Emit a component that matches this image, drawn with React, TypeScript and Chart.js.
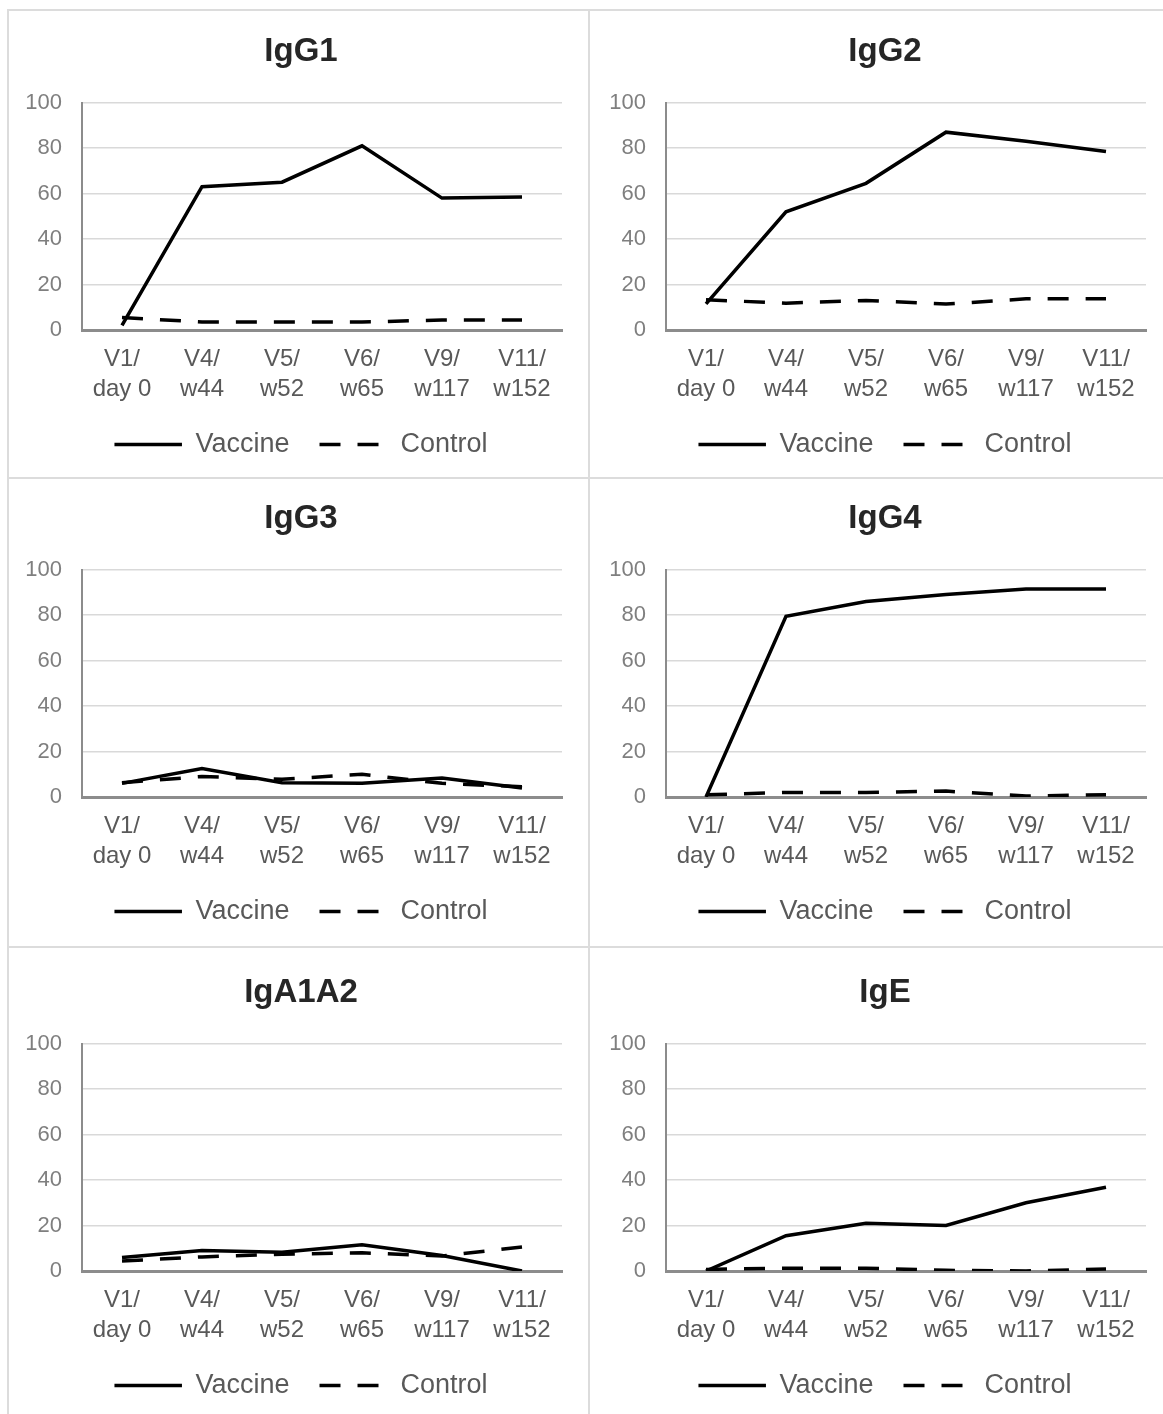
import React, { useEffect, useRef } from "react";
import { Chart, registerables } from "chart.js";

Chart.register(...registerables);

const timepoints: string[][] = [
  ["V1/", "day 0"],
  ["V4/", "w44"],
  ["V5/", "w52"],
  ["V6/", "w65"],
  ["V9/", "w117"],
  ["V11/", "w152"],
];
const yTicks = [0, 20, 40, 60, 80, 100];
const seriesNames = ["Vaccine", "Control"];

const igg1Vaccine = [2, 63, 65, 81, 58, 58.5];
const igg1Control = [5.5, 3.5, 3.5, 3.5, 4.4, 4.4];
const igg2Vaccine = [11.5, 52, 64.5, 87, 83, 78.5];
const igg2Control = [13.3, 11.8, 13, 11.4, 13.7, 13.7];
const igg3Vaccine = [6, 12.5, 6.3, 6, 8.3, 4];
const igg3Control = [6.3, 9, 7.8, 10, 6, 4.5];
const igg4Vaccine = [0, 79.5, 86, 89, 91.5, 91.5];
const igg4Control = [1, 2, 2, 2.6, 0.4, 1];
const igaVaccine = [5.9, 9, 8.2, 11.5, 6.8, 0];
const igaControl = [4.4, 6.2, 7.4, 8, 6.6, 10.6];
const igeVaccine = [0, 15.5, 21, 20, 30, 36.8];
const igeControl = [0.7, 1.2, 1.2, 0.3, 0, 0.9];

const panelTitles = ["IgG1", "IgG2", "IgG3", "IgG4", "IgA1A2", "IgE"];
const panelVaccine = [igg1Vaccine, igg2Vaccine, igg3Vaccine, igg4Vaccine, igaVaccine, igeVaccine];
const panelControl = [igg1Control, igg2Control, igg3Control, igg4Control, igaControl, igeControl];

const FONT = "'Liberation Sans', Arial, sans-serif";
const CW = 580;
const CH = 460;
const colLefts = [6, 590];
const rowTops = [10, 477, 951];
const PAD_LEFT = 34;
const DASH = [21, 17];
const LINE_W = 3.5;

const noLabelClip = (s: any) => {
  s._computeLabelArea = () => undefined;
};

function Panel({ idx }: { idx: number }) {
  const ref = useRef<HTMLCanvasElement | null>(null);
  useEffect(() => {
    if (!ref.current) return;
    const chart = new Chart(ref.current, {
      type: "line",
      data: {
        labels: timepoints,
        datasets: [
          {
            label: seriesNames[0],
            data: panelVaccine[idx],
            borderColor: "#000000",
            backgroundColor: "#000000",
            borderWidth: LINE_W,
            borderDash: [],
            pointRadius: 0,
            tension: 0,
          },
          {
            label: seriesNames[1],
            data: panelControl[idx],
            borderColor: "#000000",
            backgroundColor: "#000000",
            borderWidth: LINE_W,
            borderDash: DASH,
            pointRadius: 0,
            tension: 0,
          },
        ],
      },
      options: {
        animation: false,
        responsive: false,
        devicePixelRatio: 1,
        layout: { padding: { left: PAD_LEFT, right: 24, top: 0, bottom: 2 } },
        plugins: {
          title: {
            display: true,
            text: panelTitles[idx],
            color: "#262626",
            font: { family: FONT, size: 33, weight: "bold" },
            padding: { top: 22, bottom: 31 },
          },
          legend: {
            display: true,
            position: "bottom",
            labels: {
              usePointStyle: true,
              pointStyle: "line",
              pointStyleWidth: 67.5,
              color: "#595959",
              font: { family: FONT, size: 27 },
              padding: 30,
              generateLabels: (c: any) => {
                const items = (Chart as any).defaults.plugins.legend.labels.generateLabels(c);
                items.forEach((it: any, i: number) => {
                  const ds = c.data.datasets[it.datasetIndex ?? i];
                  it.lineDash = ds.borderDash || [];
                  it.lineWidth = LINE_W;
                  it.strokeStyle = "#000000";
                  it.fillStyle = "#000000";
                  it.lineCap = "butt";
                  it.pointStyle = "line";
                });
                return items;
              },
            },
          },
          tooltip: { enabled: false },
        },
        scales: {
          x: {
            offset: true,
            afterFit: (s: any) => {
              s.height = 71;
              noLabelClip(s);
            },
            grid: { color: "transparent", drawTicks: false },
            border: { display: true, color: "#8c8c8c", width: 3 },
            ticks: {
              color: "#595959",
              font: { family: FONT, size: 24, lineHeight: 1.25 },
              padding: 14,
              maxRotation: 0,
              autoSkip: false,
            },
          },
          y: {
            min: 0,
            max: 100,
            afterFit: (s: any) => {
              s.width = 76 - PAD_LEFT;
              noLabelClip(s);
            },
            afterBuildTicks: (s: any) => {
              s.ticks = yTicks.map((v) => ({ value: v }));
            },
            grid: { color: "#d9d9d9", lineWidth: 1.5, drawTicks: false },
            border: { display: true, color: "#8c8c8c", width: 2 },
            ticks: {
              color: "#7f7f7f",
              font: { family: FONT, size: 22 },
              padding: 20,
            },
          },
        },
      },
    } as any);
    return () => chart.destroy();
  }, [idx]);
  const col = idx % 2;
  const row = Math.floor(idx / 2);
  return (
    <canvas
      ref={ref}
      width={CW}
      height={CH}
      style={{ position: "absolute", left: colLefts[col], top: rowTops[row], width: CW, height: CH }}
    />
  );
}

export default function App() {
  const lineColor = "#dcdcdc";
  return (
    <div style={{ position: "absolute", left: 0, top: 0, width: 1163, height: 1414, background: "#ffffff", overflow: "hidden" }}>
      <div style={{ position: "absolute", left: 8, top: 9, width: 1155, height: 2, background: lineColor }} />
      <div style={{ position: "absolute", left: 8, top: 477, width: 1155, height: 2, background: lineColor }} />
      <div style={{ position: "absolute", left: 8, top: 946, width: 1155, height: 2, background: lineColor }} />
      <div style={{ position: "absolute", left: 7, top: 9, width: 2, height: 1405, background: lineColor }} />
      <div style={{ position: "absolute", left: 588, top: 9, width: 2, height: 1405, background: lineColor }} />
      {[0, 1, 2, 3, 4, 5].map((i) => (
        <Panel key={i} idx={i} />
      ))}
    </div>
  );
}
